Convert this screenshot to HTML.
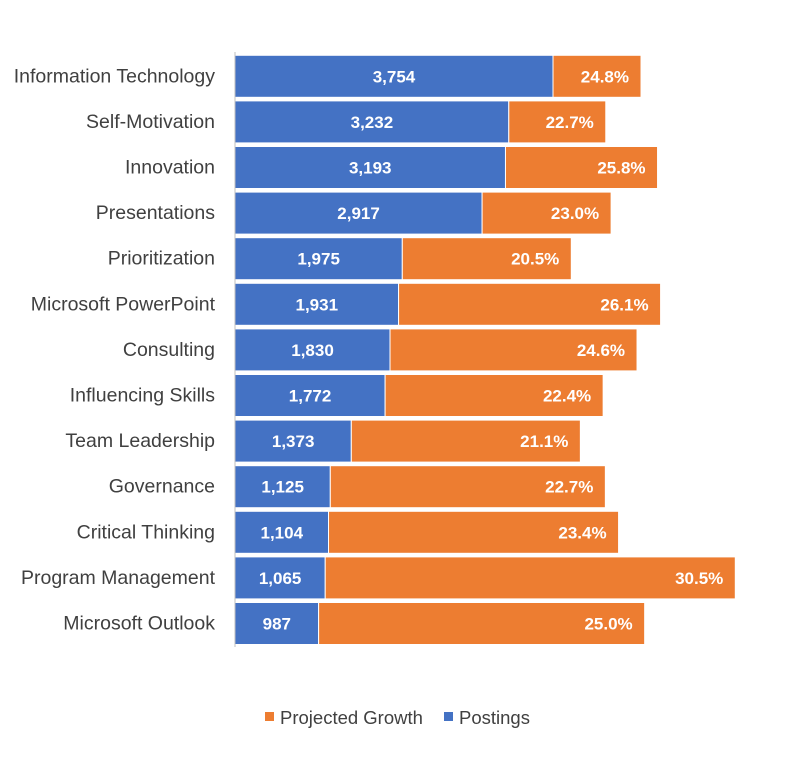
<!DOCTYPE html>
<html><head><meta charset="utf-8">
<style>
body{margin:0;background:#fff;font-family:"Liberation Sans",sans-serif;}
svg text{font-family:"Liberation Sans",sans-serif;}
</style></head>
<body>
<svg width="795" height="752" viewBox="0 0 795 752">
<g id="bars"></g>
<line x1="235" y1="52" x2="235" y2="647" stroke="#bfbfbf" stroke-width="1"/>
<g>
<rect x="265" y="712" width="9" height="9" fill="#ed7d31"/>
<text x="280" y="724" font-size="18.5" fill="#404040">Projected Growth</text>
<rect x="444" y="712" width="9" height="9" fill="#4472c4"/>
<text x="459" y="724" font-size="18.5" fill="#404040">Postings</text>
</g>
</svg>
<script>
const categories=["Information Technology","Self-Motivation","Innovation","Presentations","Prioritization","Microsoft PowerPoint","Consulting","Influencing Skills","Team Leadership","Governance","Critical Thinking","Program Management","Microsoft Outlook"];
const postings=[3754,3232,3193,2917,1975,1931,1830,1772,1373,1125,1104,1065,987];
const growthLabels=["24.8%","22.7%","25.8%","23.0%","20.5%","26.1%","24.6%","22.4%","21.1%","22.7%","23.4%","30.5%","25.0%"];
const growthSegment=[1039,1145,1795,1523,1995,3093,2916,2574,2704,3247,3424,4841,3849];
const ns="http://www.w3.org/2000/svg";
const x0=235, scale=318/3754, rowTop=53.5, rowH=45.6, barH=42;
function xs(v){return x0+v*scale;}
function yc(i){return rowTop+rowH*i+rowH/2;}
const g=document.getElementById('bars');
function mk(tag,attrs){const e=document.createElementNS(ns,tag);for(const k in attrs)e.setAttribute(k,attrs[k]);g.appendChild(e);return e;}
categories.forEach((c,i)=>{
  const y=yc(i);
  const bx=xs(postings[i]), ox=xs(postings[i]+growthSegment[i]);
  const b=mk('rect',{x:x0,y:y-barH/2,width:bx-x0,height:barH,fill:'#4472c4',stroke:'#fff','stroke-width':1});
  
  
  const o=mk('rect',{x:bx,y:y-barH/2,width:ox-bx,height:barH,fill:'#ed7d31',stroke:'#fff','stroke-width':1});
  
  
  const l=mk('text',{x:215,y:y+6,'font-size':19.5,fill:'#404040','text-anchor':'end'});
  l.textContent=c;
  
  
  const pv=mk('text',{x:(x0+bx)/2,y:y+6,'font-size':17,'font-weight':'bold',fill:'#fff','text-anchor':'middle'});
  pv.textContent=postings[i].toLocaleString('en-US');
  
  
  const gv=mk('text',{x:ox-12,y:y+6,'font-size':17,'font-weight':'bold',fill:'#fff','text-anchor':'end'});
  gv.textContent=growthLabels[i];
  
  
});
</script>
</body></html>
